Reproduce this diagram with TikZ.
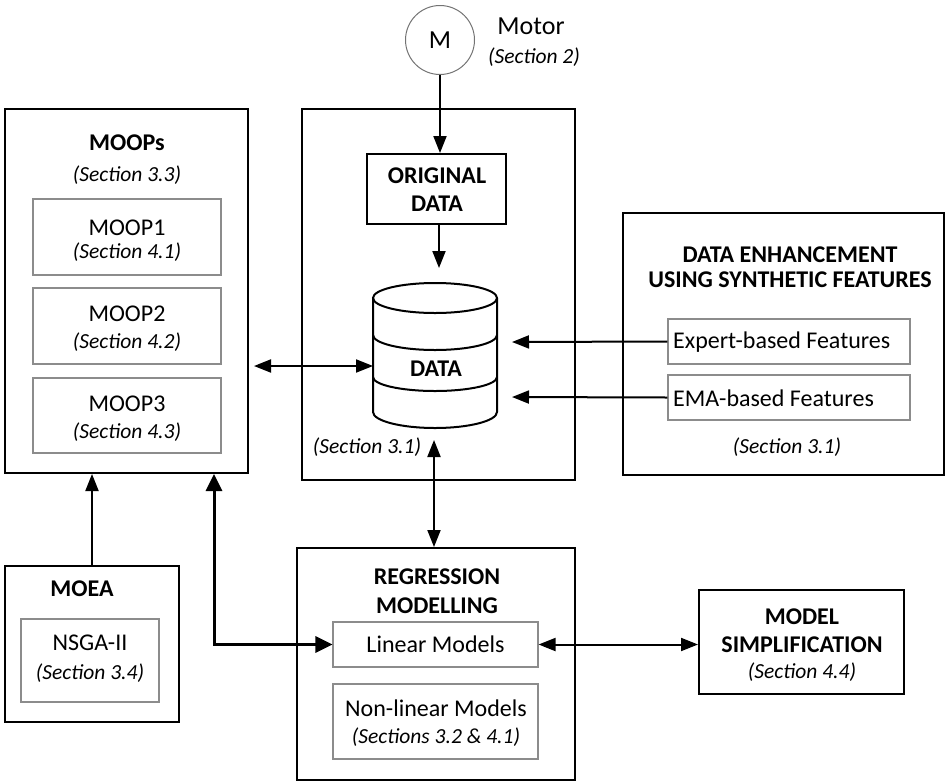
\documentclass[tikz,border=0pt]{standalone}
\usepackage{fontspec}
\setmainfont{Carlito}
\usetikzlibrary{arrows.meta}
\begin{document}
\begin{tikzpicture}[x=1pt,y=-1pt,
  outer/.style={draw=black,line width=2pt,inner sep=0pt},
  inner/.style={draw=black!45,line width=1.1pt,inner sep=0pt},
  txt/.style={font=\fontsize{24}{29}\selectfont,inner sep=0pt},
  ttl/.style={font=\fontsize{24}{29}\selectfont\bfseries,inner sep=0pt},
  sec/.style={font=\fontsize{21.5}{26}\selectfont\itshape,inner sep=0pt},
  arr/.style={line width=2pt,-{Triangle[length=17pt,width=13pt]}},
  darr/.style={line width=2pt,{Triangle[length=17pt,width=13pt]}-{Triangle[length=17pt,width=13pt]}},
  thickarr/.style={line width=3pt,{Triangle[length=17pt,width=16pt]}-{Triangle[length=17pt,width=16pt]}},
]
\useasboundingbox (0,0) rectangle (947,782);

% Motor
\node[circle,draw=black!55,line width=1pt,minimum size=69pt,inner sep=0pt,
  font=\fontsize{26}{30}\selectfont] (motor) at (440,40) {M};
\node[font=\fontsize{26}{30}\selectfont,inner sep=0pt] (motorT) at (531,26) {Motor};
\node[sec] (motorS) at (534,57) {(Section 2)};

% MOOPs
\node[outer,minimum width=243pt,minimum height=364pt] (moops) at (126.5,291) {};
\node[ttl] (moopsT) at (127,143) {MOOPs};
\node[sec] (moopsS) at (127,175) {(Section 3.3)};
\node[inner,minimum width=188pt,minimum height=76pt] (moop1) at (127,237) {};
\node[txt] (moop1T) at (127,228) {MOOP1};
\node[sec] (moop1S) at (127,252) {(Section 4.1)};
\node[inner,minimum width=188pt,minimum height=76pt] (moop2) at (127,326) {};
\node[txt] (moop2T) at (127,314) {MOOP2};
\node[sec] (moop2S) at (127,342) {(Section 4.2)};
\node[inner,minimum width=188pt,minimum height=75pt] (moop3) at (127,415.5) {};
\node[txt] (moop3T) at (127,404) {MOOP3};
\node[sec] (moop3S) at (127,432) {(Section 4.3)};

% Data box
\node[outer,minimum width=273pt,minimum height=371pt] (databox) at (438.5,294.5) {};
\node[outer,minimum width=139pt,minimum height=70pt] (orig) at (436.5,189) {};
\node[ttl] (origT1) at (437,176) {ORIGINAL};
\node[ttl] (origT2) at (437,204) {DATA};
\node[sec] (dataS) at (367,447) {(Section 3.1)};

% cylinder
\node[minimum width=124pt,minimum height=145pt,inner sep=0pt] (cyl) at (435,355.5) {};
\draw[line width=2pt,fill=white] (435,298) ellipse [x radius=62,y radius=15];
\draw[line width=2pt] (373,298) -- (373,412)
  .. controls (373,420.8) and (400.8,428) .. (435,428)
  .. controls (469.2,428) and (497,420.8) .. (497,412) -- (497,298);
\draw[line width=2pt] (373,335)
  .. controls (373,343.3) and (400.8,350) .. (435,350)
  .. controls (469.2,350) and (497,343.3) .. (497,335);
\draw[line width=2pt] (373,377)
  .. controls (373,384.7) and (400.8,391) .. (435,391)
  .. controls (469.2,391) and (497,384.7) .. (497,377);
\node[ttl] (cylT) at (436,369) {DATA};

% Data enhancement
\node[outer,minimum width=321pt,minimum height=262pt] (enh) at (783.5,344) {};
\node[ttl] (enhT1) at (790,255) {DATA ENHANCEMENT};
\node[ttl] (enhT2) at (790,280) {USING SYNTHETIC FEATURES};
\node[inner,minimum width=242pt,minimum height=45pt] (expert) at (789,341.5) {};
\node[txt,anchor=west] (expertT) at (673,342) {Expert-based Features};
\node[inner,minimum width=242pt,minimum height=45pt] (ema) at (789,397.5) {};
\node[txt,anchor=west] (emaT) at (673,398) {EMA-based Features};
\node[sec] (enhS) at (787,447) {(Section 3.1)};

% MOEA
\node[outer,minimum width=174pt,minimum height=156pt] (moea) at (92,644) {};
\node[ttl] (moeaT) at (82,589) {MOEA};
\node[inner,minimum width=138pt,minimum height=83pt] (nsga) at (90,660.5) {};
\node[txt] (nsgaT) at (90,643) {NSGA-II};
\node[sec] (nsgaS) at (90,673) {(Section 3.4)};

% Regression
\node[outer,minimum width=278pt,minimum height=232pt] (regr) at (436,664) {};
\node[ttl] (regrT1) at (437,577) {REGRESSION};
\node[ttl] (regrT2) at (437,606) {MODELLING};
\node[inner,minimum width=205pt,minimum height=45pt,txt] (linear) at (435.5,644.5) {Linear Models};
\node[inner,minimum width=205pt,minimum height=75pt] (nonlin) at (435.5,721.5) {};
\node[txt] (nonlinT) at (436,708) {Non-linear Models};
\node[sec] (nonlinS) at (436,737) {(Sections 3.2 \& 4.1)};

% Model simplification
\node[outer,minimum width=205pt,minimum height=104pt] (simp) at (801.5,642) {};
\node[ttl] (simpT1) at (802,617) {MODEL};
\node[ttl] (simpT2) at (802,645) {SIMPLIFICATION};
\node[sec] (simpS) at (802,672) {(Section 4.4)};

% connector end points
\coordinate (cT) at (439,268);
\coordinate (cE) at (512,342);
\coordinate (cM) at (512,397);
\coordinate (cL) at (373,366);
\coordinate (mR) at (254,366);
\coordinate (cB) at (434,440);
\coordinate (bend) at (214,644);

% connectors
\draw[arr] (motor.south) -- (motor.south |- orig.north);
\draw[arr] (cT |- orig.south) -- (cT);
\draw[arr] (expert.west) -- (cE);
\draw[arr] (ema.west) -- (cM);
\draw[darr] (mR) -- (cL);
\draw[darr] (cB) -- (cB |- regr.north);
\draw[arr] (moea.north) -- (moea.north |- moops.south);
\draw[thickarr] (moops.south -| bend) |- (linear.west);
\draw[darr] (linear.east) -- (simp.west |- linear.east);
\end{tikzpicture}
\end{document}
